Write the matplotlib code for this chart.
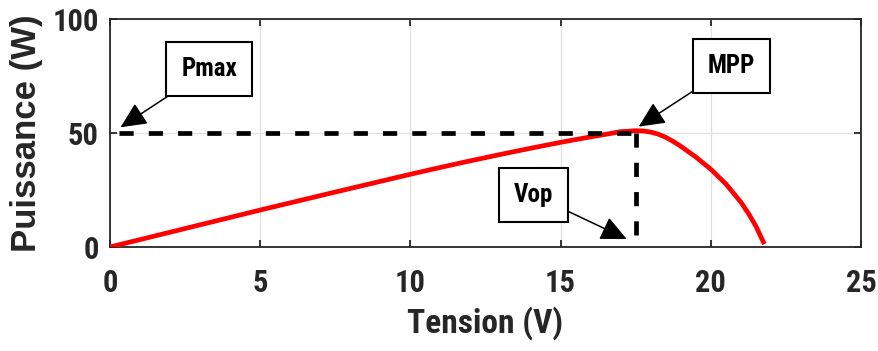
import matplotlib
matplotlib.use('Agg')
import matplotlib.pyplot as plt
from matplotlib import font_manager as fm

# P-V curve
tension = [0, 2.5, 5, 7.5, 10, 11, 12, 13, 14, 15, 15.5, 16, 16.5, 17, 17.5,
           17.75, 18, 18.25, 18.5, 18.75, 19, 19.5, 20, 20.5, 21, 21.25, 21.5, 21.75]
puissance = [0, 8.1, 16.2, 24.1, 31.9, 34.9, 37.8, 40.6, 43.3, 45.9, 47.1, 48.3,
             49.4, 50.6, 51.0, 50.9, 50.4, 49.5, 48.1, 46.3, 44.2, 39.5, 34.1,
             27.7, 19.7, 14.8, 9.2, 2.2]

p_max = 50
v_op = 17.5
x_ticks = [0, 5, 10, 15, 20, 25]
y_ticks = [0, 50, 100]

# annotations: label, arrow tip (data), text position (data)
annotations = [
    ('Pmax', (0.35, 52.5), (3.3, 78.0)),
    ('MPP', (17.6, 52.8), (20.7, 79.5)),
    ('Vop', (17.2, 3.5), (14.1, 22.8)),
]


def pick_condensed_bold():
    # look for a narrow / condensed bold sans face among installed fonts
    prefs = ['liberationsansnarrow-bold.', 'arialnarrow', 'robotocondensed-bold.',
             'notosans-condensedbold.', 'opensanscondensed-bold', 'opensans-condensedbold.']
    files = {f.fname.split('/')[-1].lower(): f.fname for f in fm.fontManager.ttflist}
    for p in prefs:
        for name, path in files.items():
            if name.startswith(p) or p in name:
                return fm.FontProperties(fname=path)
    for f in fm.fontManager.ttflist:
        n = (f.name + ' ' + f.fname).lower()
        if ('condensed' in n or 'narrow' in n) and 'semi' not in n and 'extra' not in n \
                and 'italic' not in n and 'mono' not in n and 'serif' not in n \
                and f.weight in (700, 'bold'):
            return fm.FontProperties(fname=f.fname)
    return fm.FontProperties(family=['Liberation Sans', 'DejaVu Sans'], weight='bold')


cond = pick_condensed_bold()
plt.rcParams['font.family'] = ['Liberation Sans', 'DejaVu Sans']
dark = '#262626'


def fp(size):
    p = cond.copy()
    p.set_size(size)
    return p


fig = plt.figure(figsize=(8.79, 3.51), dpi=100)
fig.patch.set_facecolor('white')
ax = fig.add_axes([0.1251, 0.2963, 0.9795 - 0.1251, 0.9459 - 0.2963])

ax.plot(tension, puissance, color='#ff0000', linewidth=3.4, zorder=3)

# dashed guides to the maximum power point
ax.plot([0.3, v_op], [p_max, p_max], color='black', linewidth=3.4,
        dashes=(3.0, 3.2), zorder=4)
ax.plot([v_op, v_op], [p_max, 0], color='black', linewidth=3.4,
        dashes=(3.0, 3.2), zorder=4)

for label, tip, txt in annotations:
    ax.annotate(label, xy=tip, xytext=txt, ha='center', va='center',
                fontproperties=fp(18), color='black',
                bbox=dict(boxstyle='square,pad=0.6', fc='white', ec='black', lw=1.5),
                arrowprops=dict(arrowstyle='-|>,head_length=1.6,head_width=0.75',
                                mutation_scale=10, color='black', lw=1.1,
                                shrinkA=0, shrinkB=0),
                zorder=5)

ax.set_xlim(0, 25)
ax.set_ylim(0, 100)
ax.set_xticks(x_ticks)
ax.set_yticks(y_ticks)
ax.grid(True, color='#e0e0e0', linewidth=0.9)
ax.set_axisbelow(True)

ax.tick_params(direction='in', length=5, width=1.3, top=True, right=True, colors=dark)
ax.tick_params(axis='x', pad=15)
ax.tick_params(axis='y', pad=8)
for lbl in ax.get_xticklabels() + ax.get_yticklabels():
    lbl.set_fontproperties(fp(22))
for sp in ax.spines.values():
    sp.set_color(dark)
    sp.set_linewidth(1.3)

ax.set_xlabel('Tension (V)', fontproperties=fp(24), color=dark, labelpad=6)
ax.set_ylabel('Puissance (W)', fontsize=25, fontweight='bold', color=dark, labelpad=7)

fig.savefig('out.png', dpi=100, facecolor='white')
